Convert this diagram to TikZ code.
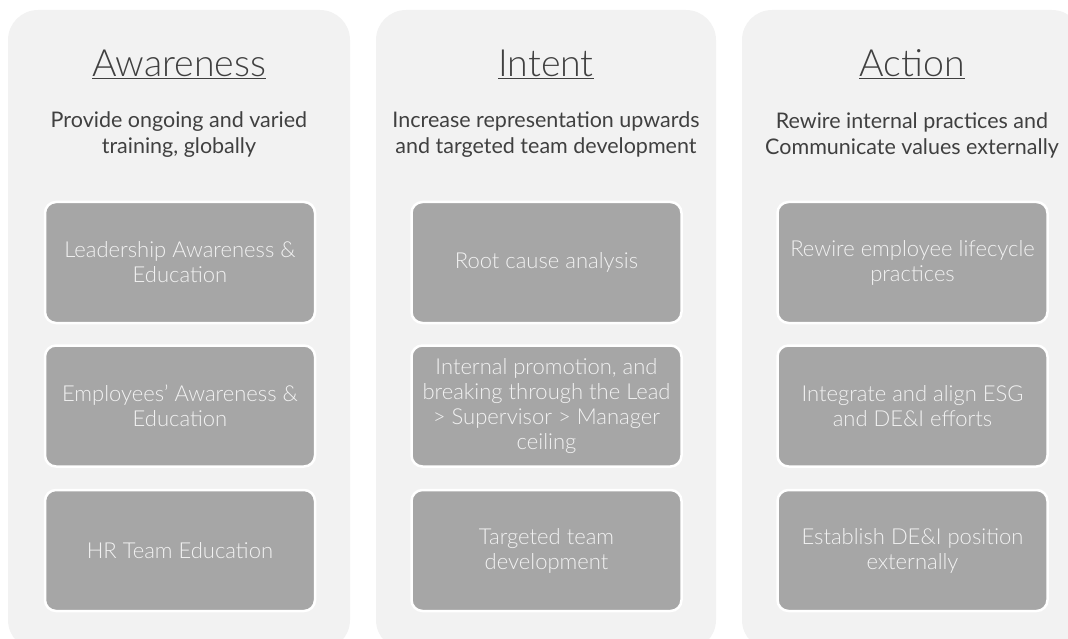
\documentclass[tikz,border=0pt]{standalone}
\usepackage{fontspec}
\setmainfont{Lato}
\newfontfamily\lightfont{Lato}[UprightFont=* Light]
\definecolor{panelgray}{HTML}{F2F2F2}
\definecolor{boxgray}{HTML}{A6A6A6}
\definecolor{textgray}{HTML}{404040}
\definecolor{boxtext}{HTML}{F2F2F2}
\begin{document}
\begin{tikzpicture}[x=1pt, y=-1pt,
panel/.style={fill=panelgray, rounded corners=30pt, minimum width=342pt, minimum height=640pt, inner sep=0pt},
stage/.style={text=textgray, font=\lightfont\fontsize{37.5}{42}\selectfont},
goal/.style={text=textgray, align=center, font=\fontsize{21.5}{26}\selectfont},
task/.style={fill=boxgray, draw=white, line width=2.5pt, rounded corners=11pt, minimum width=270pt, minimum height=121pt, text=boxtext, align=center, font=\lightfont\fontsize{22}{25}\selectfont}]
\useasboundingbox (0,0) rectangle (1068,639);
\clip (0,0) rectangle (1068,639);
\node[panel] (pawa) at (179,330){};
\node[panel, minimum width=340pt] (pint) at (546,330){};
\node[panel, minimum width=340pt] (pact) at (912,330){};
\node[stage] (awa) at (179,64){\underline{Awareness}};
\node[stage] (int) at (546,64){\underline{Intent}};
\node[stage] (act) at (912,64){\underline{Action}};
\node[goal] (gawa) at (179,135){Provide ongoing and varied\\training, globally};
\node[goal] (gint) at (546,135){Increase representation upwards\\and targeted team development};
\node[goal] (gact) at (912,135){Rewire internal practices and\\Communicate values externally};
\node[task] (awa1) at (180,262.5){Leadership Awareness \&\\Education};
\node[task] (awa2) at (180,406){Employees’ Awareness \&\\Education};
\node[task] (awa3) at (180,550.5){HR Team Education};
\node[task] (int1) at (546.5,262.5){Root cause analysis};
\node[task] (int2) at (546.5,406){Internal promotion, and\\breaking through the Lead\\> Supervisor > Manager\\ceiling};
\node[task] (int3) at (546.5,550.5){Targeted team\\development};
\node[task] (act1) at (912.5,262.5){Rewire employee lifecycle\\practices};
\node[task] (act2) at (912.5,406){Integrate and align ESG\\and DE\&I efforts};
\node[task] (act3) at (912.5,550.5){Establish DE\&I position\\externally};
\end{tikzpicture}
\end{document}
